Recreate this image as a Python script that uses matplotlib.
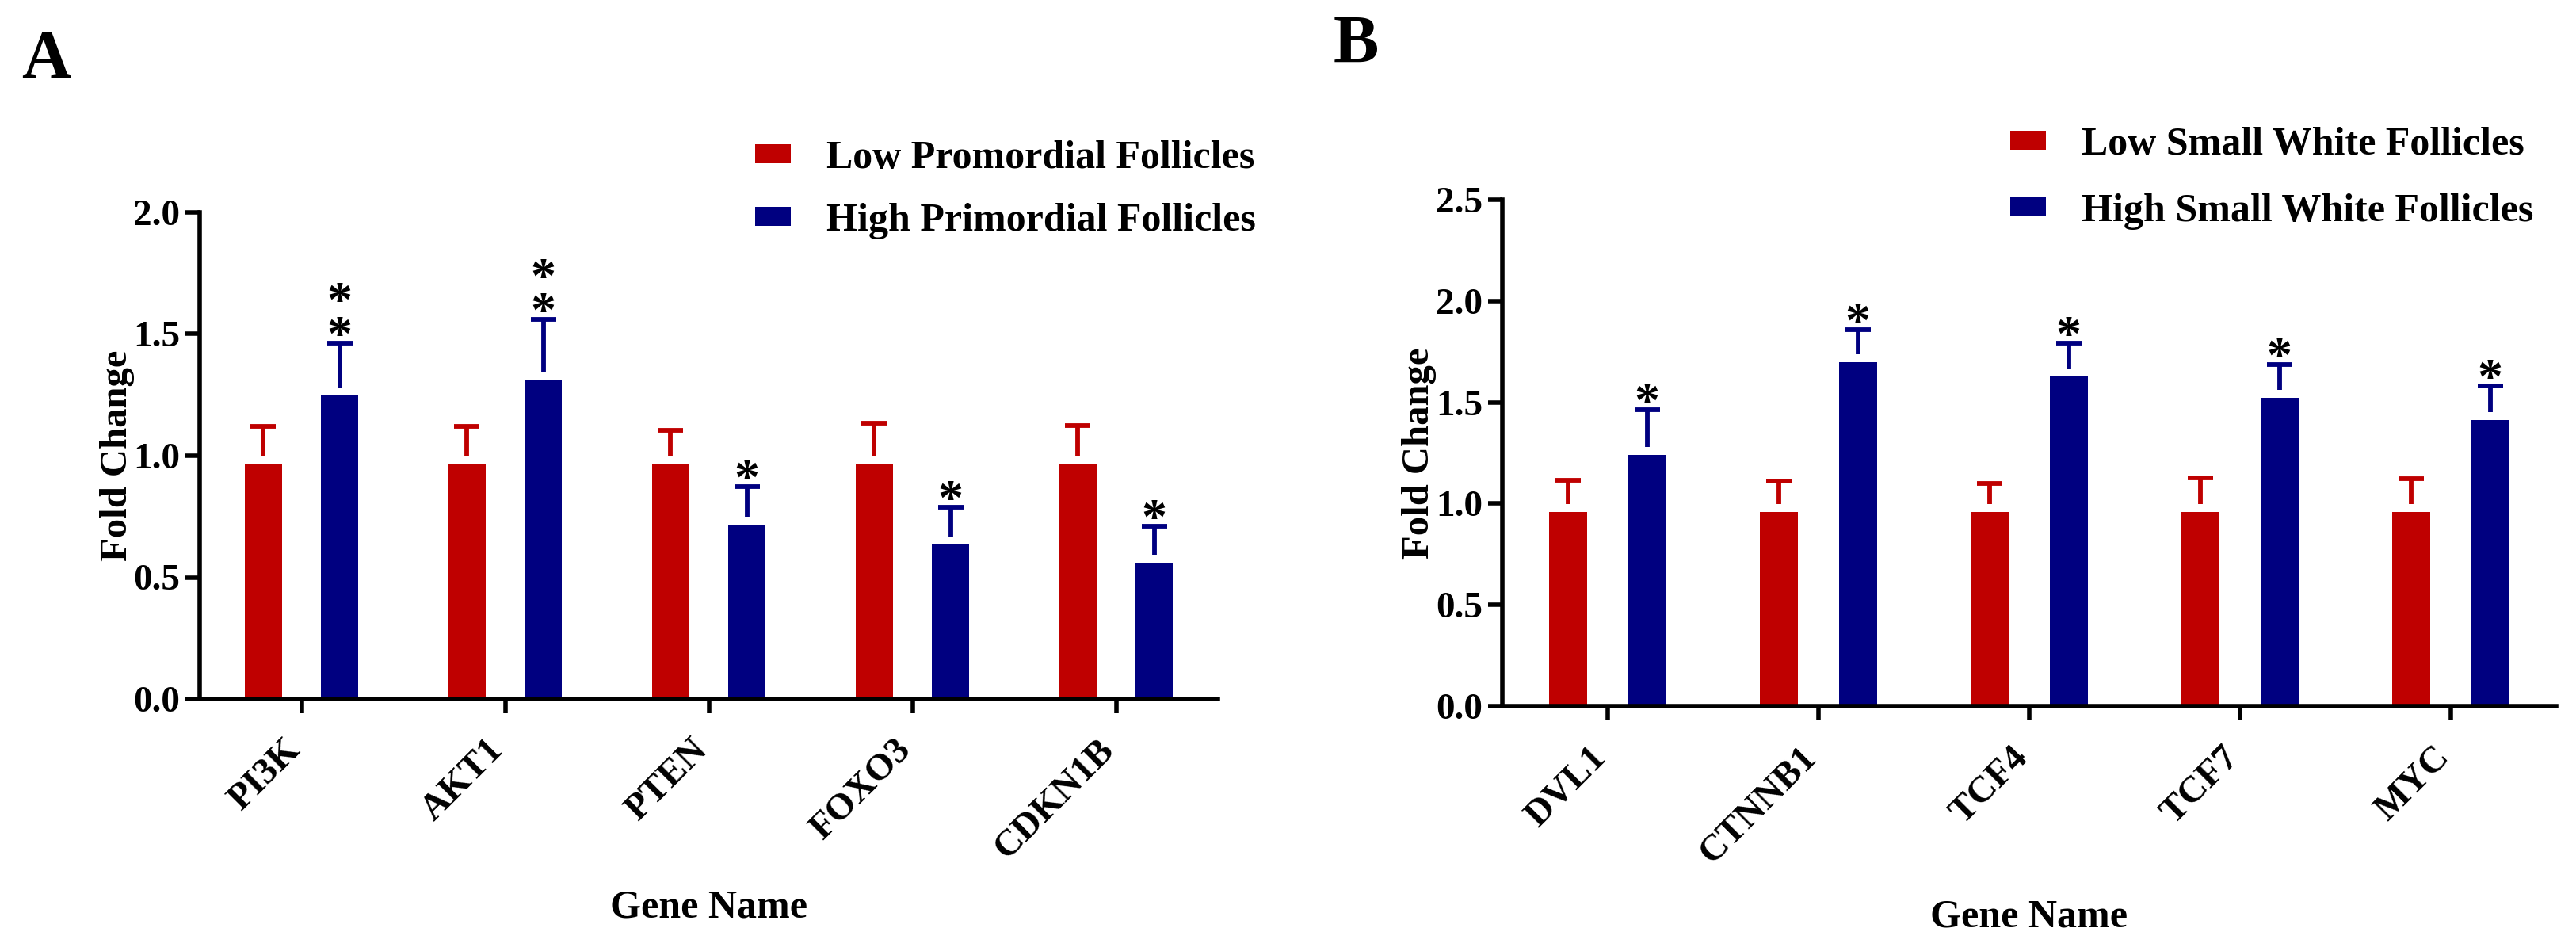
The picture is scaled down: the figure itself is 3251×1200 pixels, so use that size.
import matplotlib
matplotlib.use('Agg')
import matplotlib.pyplot as plt
from matplotlib.patches import Patch
from matplotlib.transforms import ScaledTranslation
import numpy as np

# ---------------- data ----------------
genes_a = ['PI3K', 'AKT1', 'PTEN', 'FOXO3', 'CDKN1B']
low_a = [0.965, 0.965, 0.965, 0.965, 0.965]
low_err_a = [0.157, 0.155, 0.140, 0.170, 0.160]
high_a = [1.246, 1.311, 0.716, 0.634, 0.560]
high_err_a = [0.216, 0.250, 0.157, 0.155, 0.150]
sig_a = ['**', '**', '*', '*', '*']
legend_a = ['Low Promordial Follicles', 'High Primordial Follicles']
yticks_a = [0.0, 0.5, 1.0, 1.5, 2.0]

genes_b = ['DVL1', 'CTNNB1', 'TCF4', 'TCF7', 'MYC']
low_b = [0.96, 0.96, 0.96, 0.96, 0.96]
low_err_b = [0.155, 0.153, 0.140, 0.167, 0.161]
high_b = [1.240, 1.699, 1.627, 1.522, 1.414]
high_err_b = [0.224, 0.161, 0.165, 0.165, 0.165]
sig_b = ['*', '*', '*', '*', '*']
legend_b = ['Low Small White Follicles', 'High Small White Follicles']
yticks_b = [0.0, 0.5, 1.0, 1.5, 2.0, 2.5]

RED = '#BF0000'
BLUE = '#000080'
SERIF = 'Liberation Serif'

W, H = 3251, 1200
DPI = 100
fig = plt.figure(figsize=(W / DPI, H / DPI), dpi=DPI)
plt.rcParams['font.family'] = SERIF
plt.rcParams['font.weight'] = 'bold'


def px_rect(left, top, right, bottom):
    return [left / W, 1 - bottom / H, (right - left) / W, (bottom - top) / H]


def panel(rect, genes, low, low_err, high, high_err, sig, ylim, yticks,
          legend_labels, legend_anchor, legend_spacing, letter, letter_pos,
          ylab_x, xlab_y):
    ax = fig.add_axes(px_rect(*rect))
    x = np.arange(len(genes))
    width = 0.18
    off = 0.187
    ax.bar(x - off, low, width, color=RED, zorder=2)
    ax.bar(x + off, high, width, color=BLUE, zorder=2)
    ax.set_xlim(-0.5, len(genes) - 0.5)
    ax.set_ylim(*ylim)

    # points per data unit, for the small gap between bar and whisker
    ax_h_pt = ax.get_position().height * fig.get_figheight() * 72
    pt_per_unit = ax_h_pt / (ylim[1] - ylim[0])
    gap = 7.0 / pt_per_unit
    lw = 4.2
    for xs, vals, errs, col in [(x - off, low, low_err, RED),
                                (x + off, high, high_err, BLUE)]:
        vals = np.asarray(vals)
        errs = np.asarray(errs)
        ax.vlines(xs, vals + gap, vals + errs, colors=col, lw=lw, zorder=3)
        ax.plot(xs, vals + errs, ls='none', marker='_', ms=23, mew=lw,
                color=col, zorder=3)

    for xi, v, e, s in zip(x + off, high, high_err, sig):
        ax.annotate('\n'.join(s), xy=(xi, v + e), xytext=(0, -6.5),
                    textcoords='offset points', ha='center', va='baseline',
                    fontsize=46, fontweight='bold', color='black',
                    family=SERIF, linespacing=0.66, zorder=4)

    for side in ['top', 'right']:
        ax.spines[side].set_visible(False)
    for side in ['left', 'bottom']:
        ax.spines[side].set_linewidth(4.0)
        ax.spines[side].set_capstyle('projecting')
    ax.set_yticks(yticks)
    ax.set_yticklabels(['%.1f' % t for t in yticks], fontsize=34,
                       fontweight='bold', family=SERIF)
    ax.set_xticks(x)
    ax.set_xticklabels(genes, fontsize=34, fontweight='bold', family=SERIF,
                       rotation=45, ha='right', va='center',
                       rotation_mode='anchor')
    ax.tick_params(axis='both', length=13, width=4.0, pad=5, color='black')
    ax.tick_params(axis='x', pad=29)
    shift = ScaledTranslation(-6 / 72, 0, fig.dpi_scale_trans)
    for lbl in ax.get_xticklabels():
        lbl.set_transform(lbl.get_transform() + shift)

    fig.text(ylab_x / W, 1 - (rect[1] + rect[3]) / 2 / H, 'Fold Change',
             rotation=90, ha='center', va='center', fontsize=35,
             fontweight='bold', family=SERIF)
    fig.text((rect[0] + rect[2]) / 2 / W, 1 - xlab_y / H, 'Gene Name',
             ha='center', va='baseline', fontsize=36, fontweight='bold',
             family=SERIF)
    fig.text(letter_pos[0] / W, 1 - letter_pos[1] / H, letter,
             ha='left', va='baseline', fontsize=62, fontweight='bold',
             family=SERIF)

    handles = [Patch(facecolor=RED, edgecolor='none'),
               Patch(facecolor=BLUE, edgecolor='none')]
    fig.legend(handles, legend_labels, loc='upper left',
               bbox_to_anchor=(legend_anchor[0] / W, 1 - legend_anchor[1] / H),
               frameon=False, borderaxespad=0, borderpad=0,
               handlelength=0.9, handleheight=0.36, handletextpad=0.9,
               labelspacing=legend_spacing,
               prop={'family': SERIF, 'weight': 'bold', 'size': 36})
    return ax


panel((252, 268, 1537, 882), genes_a, low_a, low_err_a, high_a, high_err_a,
      sig_a, (0, 2.0), yticks_a, legend_a, (953, 177), 0.65, 'A', (27, 97),
      148, 1157)
panel((1896, 252, 3226, 891), genes_b, low_b, low_err_b, high_b, high_err_b,
      sig_b, (0, 2.5), yticks_b, legend_b, (2537, 160), 0.75, 'B', (1683, 79),
      1791, 1170)

fig.savefig('out.png', dpi=DPI, facecolor='white')
